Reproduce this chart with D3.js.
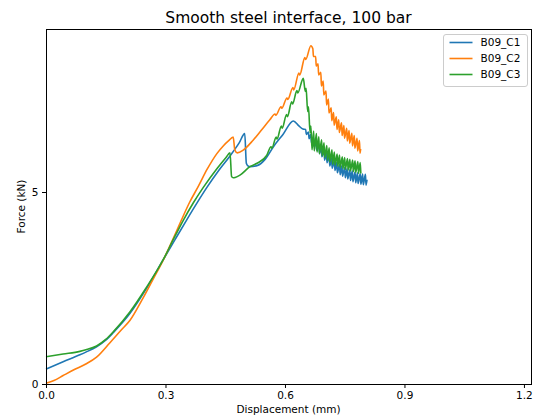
<!DOCTYPE html>
<html>
<head>
<meta charset="utf-8">
<style>
  body { margin: 0; background: #fff; }
  svg { display: block; font-family: "DejaVu Sans", sans-serif; }
</style>
</head>
<body>
  <svg width="536" height="416"></svg> <!-- // chart goes here -->

  <script src="https://d3js.org/d3.v7.min.js"></script>

  <script>
    // series names + colours (matplotlib defaults)
    const seriesNames = ["B09_C1", "B09_C2", "B09_C3"];
    const seriesColors = ["#1f77b4", "#ff7f0e", "#2ca02c"];

    // tick values
    const xTicks = [0.0, 0.3, 0.6, 0.9, 1.2];
    const yTicks = [0, 5];

    // B09_C1 : [displacement mm, force kN]
    const c1 = [
      [0, 0.39], [0.043, 0.58], [0.085, 0.76], [0.10, 0.83], [0.127, 0.97],
      [0.15, 1.14], [0.17, 1.35], [0.211, 1.84], [0.25, 2.45], [0.294, 3.23],
      [0.325, 3.78], [0.353, 4.27], [0.38, 4.73], [0.404, 5.12], [0.435, 5.58],
      [0.462, 5.94], [0.485, 6.28], [0.499, 6.52], [0.503, 5.75], [0.507, 5.68],
      [0.512, 5.66], [0.533, 5.70], [0.55, 5.85], [0.571, 6.18], [0.595, 6.50],
      [0.621, 6.85], [0.635, 6.72], [0.645, 6.64],
      [0.652, 6.63], [0.6535, 6.50], [0.659, 6.56], [0.6605, 6.39],
      [0.665, 6.50], [0.6665, 6.28], [0.672, 6.42], [0.6735, 6.17],
      [0.678, 6.35], [0.6795, 6.09], [0.685, 6.26], [0.6865, 6.00],
      [0.691, 6.18], [0.6925, 5.92], [0.698, 6.09], [0.6995, 5.83],
      [0.704, 6.02], [0.7055, 5.76], [0.711, 5.94], [0.7125, 5.68],
      [0.717, 5.88], [0.7185, 5.62], [0.724, 5.82], [0.7255, 5.56],
      [0.730, 5.77], [0.7315, 5.50], [0.737, 5.72], [0.7385, 5.45],
      [0.743, 5.68], [0.7445, 5.41], [0.750, 5.64], [0.7515, 5.37],
      [0.756, 5.61], [0.7575, 5.34], [0.763, 5.58], [0.7645, 5.30],
      [0.769, 5.55], [0.7705, 5.27], [0.776, 5.52], [0.7775, 5.24],
      [0.782, 5.50], [0.7835, 5.22], [0.789, 5.48], [0.7905, 5.20],
      [0.795, 5.47], [0.7965, 5.19], [0.802, 5.46], [0.8035, 5.18],
      [0.806, 5.32]
    ];

    // B09_C2
    const c2 = [
      [0, 0.02], [0.02, 0.09], [0.043, 0.22], [0.07, 0.37], [0.10, 0.52],
      [0.127, 0.70], [0.16, 1.07], [0.19, 1.42], [0.211, 1.66], [0.24, 2.17],
      [0.269, 2.73], [0.294, 3.22], [0.32, 3.80], [0.340, 4.27], [0.36, 4.72],
      [0.382, 5.14], [0.405, 5.60], [0.429, 6.00], [0.445, 6.20], [0.458, 6.33],
      [0.470, 6.43], [0.474, 6.10], [0.480, 6.02], [0.495, 6.09], [0.520, 6.35],
      [0.540, 6.60], [0.562, 6.88], [0.575, 7.03], [0.577, 7.00], [0.590, 7.22],
      [0.592, 7.18], [0.605, 7.45], [0.607, 7.41], [0.620, 7.72], [0.622, 7.66],
      [0.635, 8.10], [0.637, 8.05], [0.650, 8.50], [0.652, 8.45], [0.665, 8.81],
      [0.670, 8.73], [0.6715, 8.53], [0.677, 8.53], [0.6785, 8.28],
      [0.683, 8.34], [0.6845, 8.05], [0.690, 8.12], [0.6915, 7.76],
      [0.696, 7.89], [0.6975, 7.53], [0.703, 7.63], [0.7045, 7.27],
      [0.709, 7.42], [0.7105, 7.06], [0.716, 7.19], [0.7175, 6.86],
      [0.722, 7.07], [0.7235, 6.74], [0.729, 6.96], [0.7305, 6.63],
      [0.735, 6.88], [0.7365, 6.55], [0.742, 6.80], [0.7435, 6.47],
      [0.748, 6.73], [0.7495, 6.40], [0.755, 6.66], [0.7565, 6.33],
      [0.761, 6.60], [0.7625, 6.27], [0.768, 6.53], [0.7695, 6.20],
      [0.774, 6.47], [0.7755, 6.14], [0.781, 6.40], [0.7825, 6.07],
      [0.787, 6.34], [0.7885, 6.01], [0.790, 6.12]
    ];

    // B09_C3
    const c3 = [
      [0, 0.71], [0.043, 0.78], [0.085, 0.85], [0.10, 0.89], [0.127, 0.99],
      [0.15, 1.16], [0.17, 1.37], [0.211, 1.88], [0.25, 2.48], [0.294, 3.23],
      [0.32, 3.77], [0.345, 4.27], [0.37, 4.72], [0.395, 5.12], [0.43, 5.62],
      [0.452, 5.90], [0.462, 6.02], [0.466, 5.40], [0.470, 5.37], [0.475, 5.38],
      [0.487, 5.44], [0.512, 5.66], [0.530, 5.75], [0.554, 5.95],
      [0.565, 6.18], [0.567, 6.14], [0.578, 6.43], [0.580, 6.38],
      [0.591, 6.72], [0.593, 6.66], [0.604, 7.02], [0.606, 6.96],
      [0.617, 7.35], [0.619, 7.29], [0.630, 7.64], [0.632, 7.58], [0.646, 7.96],
      [0.651, 7.62], [0.653, 7.70], [0.657, 7.10], [0.659, 7.22],
      [0.663, 6.55], [0.665, 6.72], [0.668, 6.10],
      [0.672, 6.59], [0.6735, 6.07], [0.679, 6.52], [0.6805, 6.04],
      [0.685, 6.44], [0.6865, 6.00], [0.692, 6.36], [0.6935, 5.94],
      [0.698, 6.28], [0.6995, 5.90], [0.705, 6.21], [0.7065, 5.83],
      [0.711, 6.15], [0.7125, 5.78], [0.718, 6.10], [0.7195, 5.72],
      [0.724, 6.04], [0.7255, 5.70], [0.731, 5.99], [0.7325, 5.67],
      [0.737, 5.96], [0.7385, 5.64], [0.744, 5.92], [0.7455, 5.61],
      [0.750, 5.90], [0.7515, 5.59], [0.757, 5.87], [0.7585, 5.57],
      [0.763, 5.85], [0.7645, 5.55], [0.770, 5.83], [0.7715, 5.53],
      [0.776, 5.81], [0.7775, 5.51], [0.783, 5.79], [0.7845, 5.49],
      [0.789, 5.77], [0.7905, 5.48]
    ];

    const allSeries = [c1, c2, c3];

    const svg = d3.select("svg");

    // plot area edges
    const plotL = 46, plotR = 531, plotT = 29, plotB = 384;

    const x = d3.scaleLinear().domain([0, 1.2177]).range([plotL, plotR]);
    const y = d3.scaleLinear().domain([0, 9.245]).range([plotB, plotT]);

    // lines first so the spines sit on top
    const line = d3.line()
      .x(d => x(d[0]))
      .y(d => y(d[1]))
      .curve(d3.curveMonotoneX);

    svg.append("g")
      .selectAll("path")
      .data(allSeries)
      .join("path")
      .attr("d", line)
      .attr("fill", "none")
      .attr("stroke", (d, i) => seriesColors[i])
      .attr("stroke-width", 1.6)
      .attr("stroke-linejoin", "round");

    // axes
    const xAxis = svg.append("g")
      .attr("transform", `translate(0, ${plotB})`)
      .call(d3.axisBottom(x).tickValues(xTicks).tickFormat(d3.format(".1f"))
        .tickSize(4).tickPadding(3.5).tickSizeOuter(0));

    const yAxis = svg.append("g")
      .attr("transform", `translate(${plotL}, 0)`)
      .call(d3.axisLeft(y).tickValues(yTicks).tickFormat(d3.format("d"))
        .tickSize(4).tickPadding(3.5).tickSizeOuter(0));

    [xAxis, yAxis].forEach(g => {
      g.select(".domain").remove();
      g.selectAll("line").attr("stroke", "#000").attr("stroke-width", 1);
      g.selectAll("text").attr("font-size", 10.5).attr("fill", "#000")
        .attr("font-family", "DejaVu Sans");
    });

    // box around plot
    svg.append("rect")
      .attr("x", plotL).attr("y", plotT)
      .attr("width", plotR - plotL).attr("height", plotB - plotT)
      .attr("fill", "none").attr("stroke", "#000").attr("stroke-width", 1)
      .attr("shape-rendering", "crispEdges");

    // titles
    svg.append("text")
      .attr("x", (plotL + plotR) / 2).attr("y", 23)
      .attr("text-anchor", "middle").attr("font-size", 15.5)
      .text("Smooth steel interface, 100 bar");

    svg.append("text")
      .attr("x", (plotL + plotR) / 2).attr("y", 413)
      .attr("text-anchor", "middle").attr("font-size", 10.5)
      .text("Displacement (mm)");

    svg.append("text")
      .attr("transform", `translate(25, ${(plotT + plotB) / 2}) rotate(-90)`)
      .attr("text-anchor", "middle").attr("font-size", 10.5)
      .text("Force (kN)");

    // legend
    const legend = svg.append("g").attr("transform", "translate(443.5, 34.5)");

    legend.append("rect")
      .attr("width", 84).attr("height", 52).attr("rx", 2.5)
      .attr("fill", "#fff").attr("fill-opacity", 0.8)
      .attr("stroke", "#cccccc").attr("stroke-width", 1);

    seriesNames.forEach((name, i) => {
      const row = legend.append("g").attr("transform", `translate(0, ${8 + i * 16})`);
      row.append("line")
        .attr("x1", 6).attr("x2", 29)
        .attr("stroke", seriesColors[i]).attr("stroke-width", 1.6);
      row.append("text")
        .attr("x", 37).attr("dy", "0.35em")
        .attr("font-size", 10.5)
        .text(name);
    });
  </script>
</body>
</html>
